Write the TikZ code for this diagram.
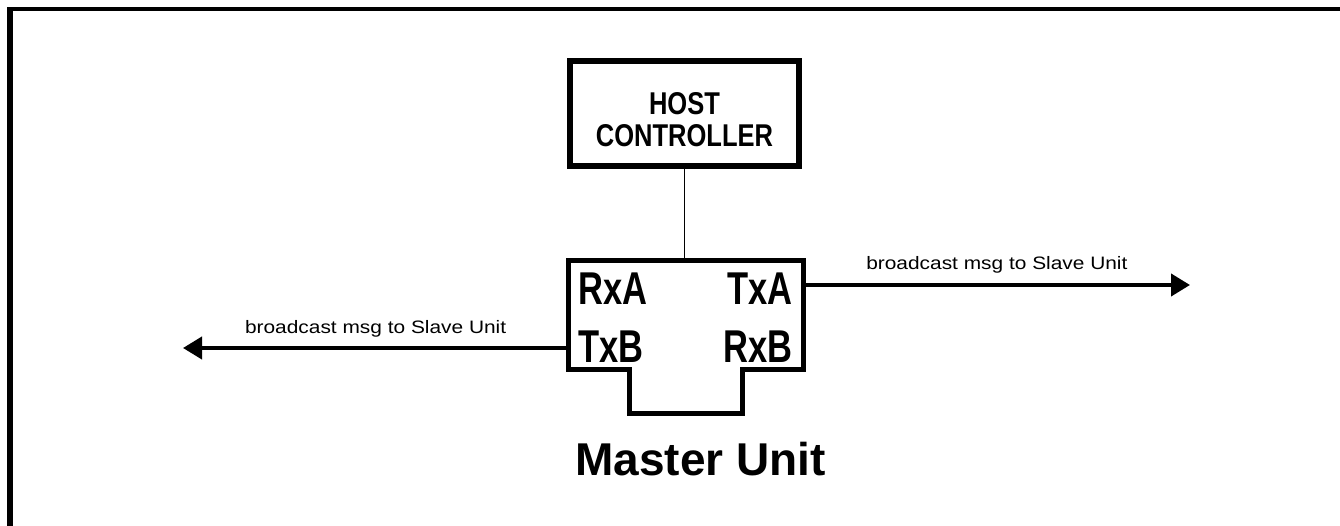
\documentclass[tikz,border=0pt]{standalone}
\usepackage{fontspec}
\setmainfont{Liberation Sans}
\newfontfamily\hostfont[FakeStretch=0.81]{Liberation Sans}
\newfontfamily\portfont[FakeStretch=0.75]{Liberation Sans}
\newfontfamily\msgfont[FakeStretch=1.16]{Liberation Sans}
\usetikzlibrary{arrows.meta, positioning, calc}

\begin{document}
\begin{tikzpicture}[
  x=1pt, y=-1pt,
  hostbox/.style={draw, line width=6pt, minimum width=229pt, minimum height=105pt, align=center, inner sep=0pt, font=\hostfont\bfseries\fontsize{31.5}{32}\selectfont},
  unitbox/.style={inner sep=0pt, outer sep=0pt, minimum width=235.5pt, minimum height=108pt},
  port/.style={inner sep=0pt, font=\portfont\bfseries\fontsize{46}{50}\selectfont},
  msg/.style={inner sep=0pt, font=\msgfont\fontsize{18}{20}\selectfont},
  bus/.style={line width=4pt, -{Triangle[length=19pt, width=22pt]}}
]
\useasboundingbox (0,0) rectangle (1340,526);

% outer frame, only left and top edge visible
\draw[line width=5.5pt] (9.8,530) -- (9.8,6.7);
\draw[line width=4pt] (7,8.7) -- (1345,8.7);

% host and master unit
\node[hostbox] (host) at (684.5,113.5) {\rule{0pt}{34pt}HOST\\CONTROLLER};
\node[unitbox] (master) at (686,315) {};

\draw[line width=5pt] (master.north west) -- (master.north east) -- (master.south east)
  -- ($(master.south)+(56.5,0)$) -- ($(master.south)+(56.5,44)$)
  -- ($(master.south)+(-56.5,44)$) -- ($(master.south)+(-56.5,0)$)
  -- (master.south west) -- cycle;

\node[port, anchor=base west] (rxa) at ($(master.north west)+(9.75,44)$) {RxA};
\node[port, anchor=base east] (txa) at ($(master.north east)+(-10.75,44)$) {TxA};
\node[port, anchor=base west] (txb) at ($(master.south west)+(9.75,-7)$) {TxB};
\node[port, anchor=base east] (rxb) at ($(master.south east)+(-10.75,-7)$) {RxB};

\node[font=\bfseries\fontsize{46}{50}\selectfont, anchor=base] (title) at (700.5,475) {Master Unit};

\draw[line width=1.5pt] (host.south) -- (host.south |- master.north);

% broadcast lines
\coordinate (txout) at (1190,285);
\coordinate (rxout) at (183,348);
\draw[bus] (master.north east |- txout) -- (txout)
  node[msg, midway, anchor=base, yshift=15pt] {broadcast msg to Slave Unit};
\draw[bus] (master.south west |- rxout) -- (rxout)
  node[msg, midway, anchor=base, yshift=15pt] {broadcast msg to Slave Unit};

\end{tikzpicture}
\end{document}
